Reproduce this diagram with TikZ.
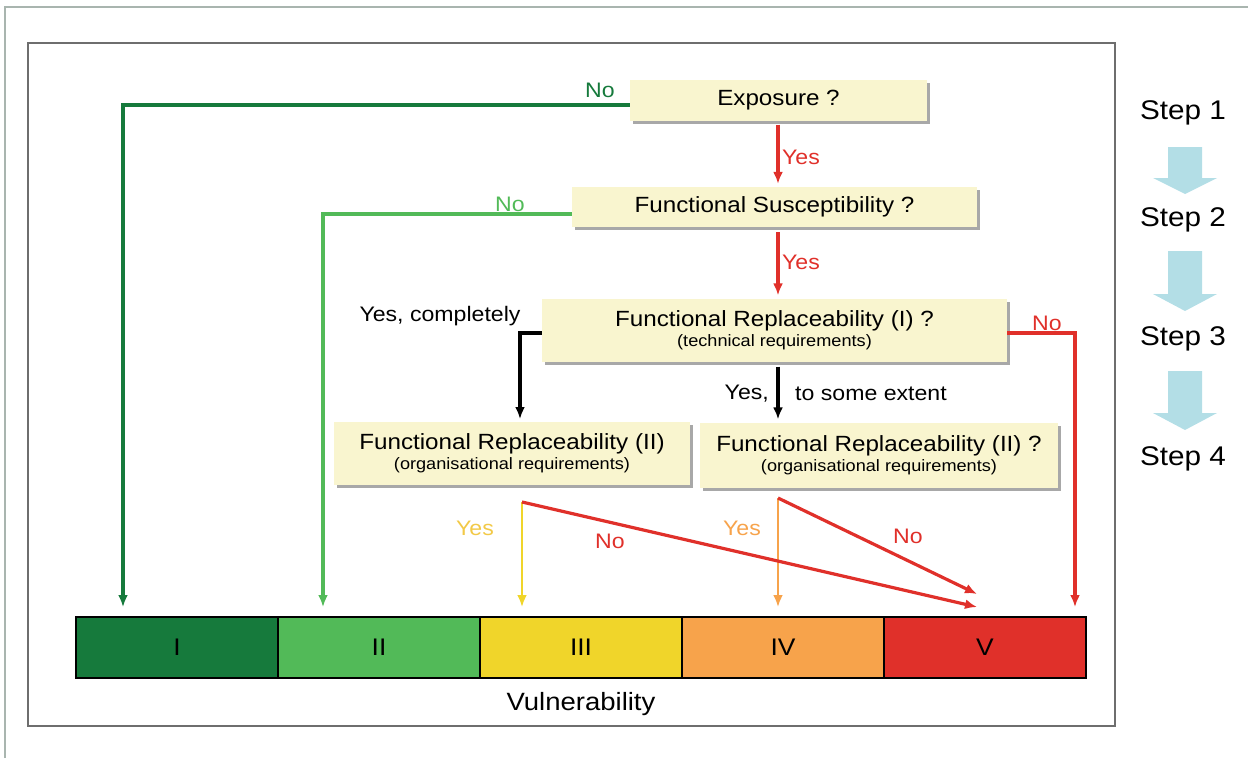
\documentclass[tikz,border=0pt]{standalone}
\usepackage{fontspec}
\setmainfont{Liberation Sans}[FakeStretch=1.1]
\usetikzlibrary{arrows.meta,shadows}
\definecolor{boxfill}{HTML}{F9F5CF}
\definecolor{shadowgray}{HTML}{A8A8A8}
\definecolor{dkgreen}{HTML}{167A3C}
\definecolor{ltgreen}{HTML}{52BA58}
\definecolor{myyellow}{HTML}{F0D52A}
\definecolor{myorange}{HTML}{F7A34B}
\definecolor{myred}{HTML}{E0302A}
\definecolor{stepblue}{HTML}{B3DEE6}
\definecolor{framegray}{HTML}{6E6E6E}
\definecolor{outergray}{HTML}{A9B5AF}
\definecolor{yeslbl}{HTML}{F2C947}
\begin{document}
\begin{tikzpicture}[x=1pt,y=-1pt,
  qbox/.style={rectangle,fill=boxfill,inner sep=0pt,align=center,
    drop shadow={shadow xshift=3pt,shadow yshift=-3pt,fill=shadowgray,opacity=1}},
  big/.style={font=\fontsize{22}{26}\selectfont},
  conn/.style={line width=3.2pt,-{Latex[length=12pt,width=10pt]}},
  thinconn/.style={line width=2.6pt,-{Latex[length=12pt,width=10pt]}},
  lbl/.style={inner sep=0pt,font=\fontsize{21}{24}\selectfont},
  seg/.style={rectangle,draw=black,line width=1.6pt,minimum width=202pt,minimum height=61pt,inner sep=0pt,font=\fontsize{24}{28}\selectfont},
  steplbl/.style={inner sep=0pt,font=\fontsize{27}{30}\selectfont},
  bluearrow/.style={fill=stepblue,draw=none}
]
\useasboundingbox (0,0) rectangle (1248,758);
% frames
\draw[outergray,line width=2pt] (5,758) -- (5,7) -- (1248,7);
\draw[framegray,line width=2.5pt] (28,43) rectangle (1115,726);

% question boxes
\node[qbox,minimum width=297pt,minimum height=41pt,big] (expo) at (778.5,100) {\raisebox{-2pt}{Exposure ?}};
\node[qbox,minimum width=405pt,minimum height=40pt,big] (fs) at (774.5,207) {\raisebox{-2pt}{Functional Susceptibility ?}};
\node[qbox,minimum width=465pt,minimum height=63pt] (fr1) at (774.5,330)
  {{\fontsize{22}{24}\selectfont Functional Replaceability (I) ?}\\[3pt]{\fontsize{16.5}{18}\selectfont (technical requirements)}};
\node[qbox,minimum width=356pt,minimum height=63pt] (fr2a) at (512,453)
  {{\fontsize{22}{24}\selectfont Functional Replaceability (II)}\\[3pt]{\fontsize{16.5}{18}\selectfont (organisational requirements)}};
\node[qbox,minimum width=358pt,minimum height=65pt] (fr2b) at (879,455)
  {{\fontsize{22}{24}\selectfont Functional Replaceability (II) ?}\\[3pt]{\fontsize{16.5}{18}\selectfont (organisational requirements)}};

% vulnerability bar
\node[seg,fill=dkgreen] (b1) at (177,647.5) {I};
\node[seg,fill=ltgreen] (b2) at (379,647.5) {II};
\node[seg,fill=myyellow] (b3) at (581,647.5) {III};
\node[seg,fill=myorange] (b4) at (783,647.5) {IV};
\node[seg,fill=myred] (b5) at (985,647.5) {V};
\node[inner sep=0pt,font=\fontsize{25}{28}\selectfont] (vul) at (581,704) {Vulnerability};

% connector end points
\coordinate (t1) at (123,607);
\coordinate (t2) at (323,607);
\coordinate (t3) at (522,607);
\coordinate (t4) at (778,607);
\coordinate (t5) at (977,607);
\coordinate (t5b) at (977,594);
\coordinate (t6) at (1075,607);
\coordinate (s1) at (522,502);
\coordinate (s2) at (778,498);
\coordinate (k1) at (520,419);

% connectors
\draw[conn,dkgreen] ([yshift=-5pt]expo.west) -| (t1);
\draw[conn,ltgreen] ([yshift=-7pt]fs.west) -| (t2);
\draw[conn,myred] ([yshift=-4pt]expo.south -| 778,0) -- ([yshift=3pt]fs.north -| 778,0);
\draw[conn,myred] ([yshift=-5pt]fs.south -| 778,0) -- ([yshift=3pt]fr1.north -| 778,0);
\draw[conn,black] ([yshift=-3pt]fr1.west) -| (k1);
\draw[conn,black] ([yshift=-5pt]fr1.south -| 778,0) -- ([yshift=3pt]fr2b.north -| 778,0);
\draw[conn,myred] ([yshift=-3pt]fr1.east) -| (t6);
\draw[thinconn,myyellow] (s1) -- (t3);
\draw[thinconn,myorange] (s2) -- (t4);
\draw[conn,myred] (s1) -- (t5);
\draw[conn,myred] (s2) -- (t5b);

% labels
\node[lbl,text=dkgreen] (n1) at (600,90) {No};
\node[lbl,text=ltgreen] (n2) at (510,204) {No};
\node[lbl,text=myred] (y1) at (801,157) {Yes};
\node[lbl,text=myred] (y2) at (801,262) {Yes};
\node[lbl,text=black] (yc) at (440,316) {Yes, completely};
\node[lbl,text=myred] (n3) at (1047,323) {No};
\node[lbl,text=black,anchor=east] (ys) at (769,394) {Yes,};
\node[lbl,text=black,anchor=west] (te) at (795,394) {to some extent};
\node[lbl,text=yeslbl] (y3) at (475,528) {Yes};
\node[lbl,text=myred] (n4) at (610,541) {No};
\node[lbl,text=myorange] (y4) at (742,528) {Yes};
\node[lbl,text=myred] (n5) at (908,536) {No};

% steps
\node[steplbl] (st1) at (1183,113) {Step 1};
\node[steplbl] (st2) at (1183,220) {Step 2};
\node[steplbl] (st3) at (1183,339) {Step 3};
\node[steplbl] (st4) at (1183,459) {Step 4};
\foreach \t/\h/\b in {147/178/194, 251/294/311, 371/413/430}{
  \fill[bluearrow] (1168,\t) -- (1202,\t) -- (1202,\h) -- (1217,\h) -- (1185,\b) -- (1153,\h) -- (1168,\h) -- cycle;
}
\end{tikzpicture}
\end{document}
